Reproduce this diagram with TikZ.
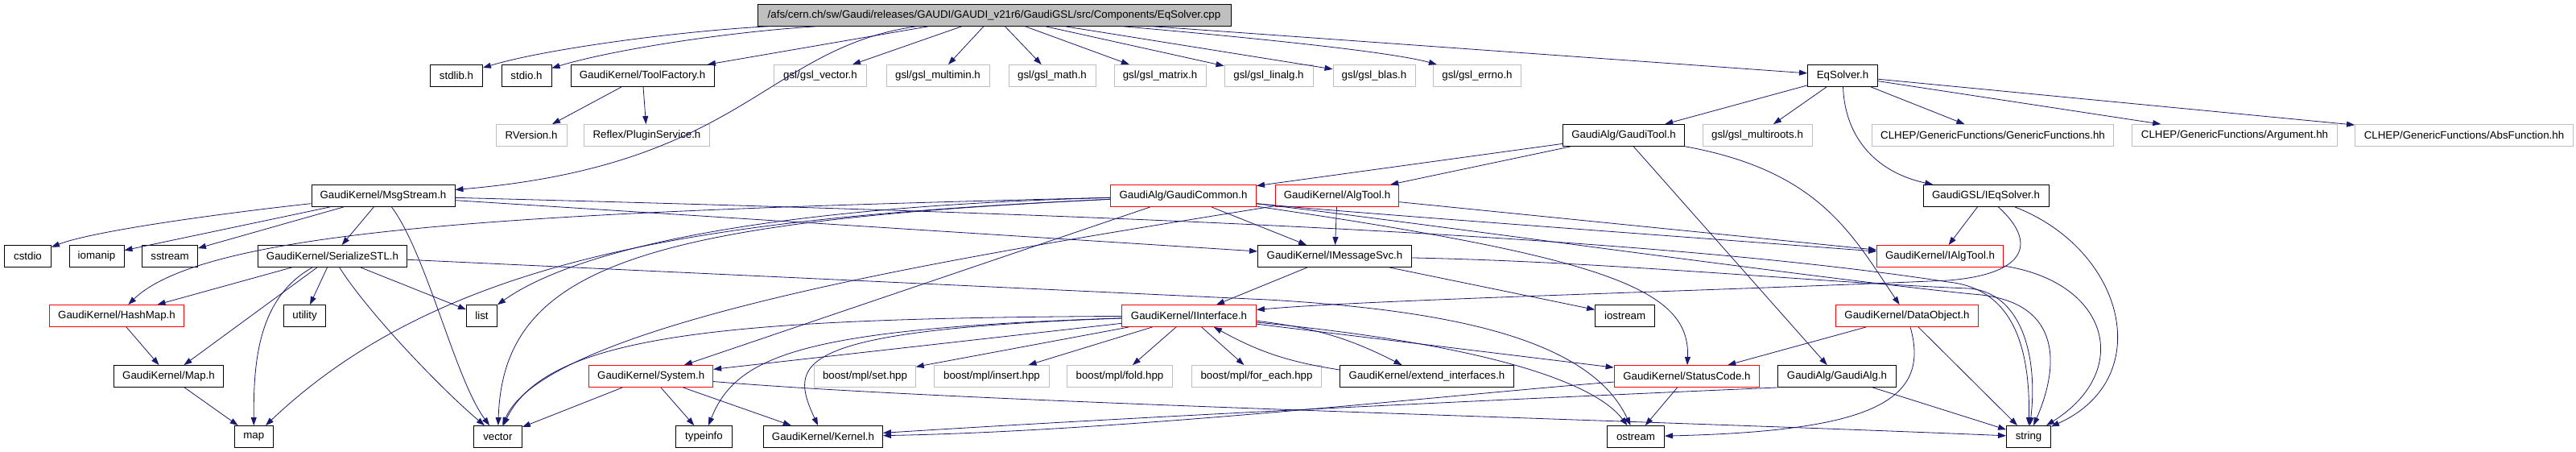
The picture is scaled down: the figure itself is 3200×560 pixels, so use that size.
\documentclass[tikz,border=0pt]{standalone}
\usepackage{fontspec}
\setmainfont{Liberation Sans}
\usetikzlibrary{arrows.meta}
\definecolor{edgeblue}{HTML}{191970}
\definecolor{grayline}{HTML}{BFBFBF}
\definecolor{redline}{HTML}{FF0000}
\begin{document}
\begin{tikzpicture}[x=1pt,y=-1pt,
  box/.style={draw=black, line width=0.9pt, minimum height=27pt, inner sep=0pt, font=\fontsize{13.3}{16}\selectfont, text=black, fill=white},
  rbox/.style={box, draw=redline},
  gbox/.style={box, draw=grayline},
  rootbox/.style={box, fill=grayline},
  conn/.style={draw=edgeblue, line width=0.8pt, -{Triangle[length=10pt,width=7pt]}},
]
\useasboundingbox (0,0) rectangle (3200,560);
\fill[white] (0,0) rectangle (3200,560);

% ---------- edges first (nodes drawn on top) ----------
\begin{scope}[on background layer/.style={}]
\end{scope}

% ---------- nodes ----------
\node[rootbox, minimum width=588pt] (root) at (1235,18.7) {/afs/cern.ch/sw/Gaudi/releases/GAUDI/GAUDI\_v21r6/GaudiGSL/src/Components/EqSolver.cpp};
% row 2
\node[box,  minimum width=65pt]  (stdlib)    at (567,94)  {stdlib.h};
\node[box,  minimum width=62pt]  (stdio)     at (654,94)  {stdio.h};
\node[box,  minimum width=178pt] (toolfac)   at (798,94)  {GaudiKernel/ToolFactory.h};
\node[gbox, minimum width=115pt] (gslvec)    at (1019,94) {gsl/gsl\_vector.h};
\node[gbox, minimum width=128pt] (gslmin)    at (1165,94) {gsl/gsl\_multimin.h};
\node[gbox, minimum width=108pt] (gslmath)   at (1307,94) {gsl/gsl\_math.h};
\node[gbox, minimum width=114pt] (gslmatrix) at (1441,94) {gsl/gsl\_matrix.h};
\node[gbox, minimum width=110pt] (gsllinalg) at (1576,94) {gsl/gsl\_linalg.h};
\node[gbox, minimum width=102pt] (gslblas)   at (1707,94) {gsl/gsl\_blas.h};
\node[gbox, minimum width=109pt] (gslerrno)  at (1835,94) {gsl/gsl\_errno.h};
\node[box,  minimum width=87pt]  (eqsolverh) at (2289,94) {EqSolver.h};
% row 3
\node[gbox, minimum width=88pt]  (rversion)   at (660,168)    {RVersion.h};
\node[gbox, minimum width=156pt] (plugin)     at (803.5,168)  {Reflex/PluginService.h};
\node[box,  minimum width=151pt] (gauditool)  at (2017,168)   {GaudiAlg/GaudiTool.h};
\node[gbox, minimum width=136pt] (multiroots) at (2183,168)   {gsl/gsl\_multiroots.h};
\node[gbox, minimum width=300pt] (genfun)     at (2475.5,168) {CLHEP/GenericFunctions/GenericFunctions.hh};
\node[gbox, minimum width=255pt] (argument)   at (2776,168)   {CLHEP/GenericFunctions/Argument.hh};
\node[gbox, minimum width=271pt] (absfun)     at (3061,168)   {CLHEP/GenericFunctions/AbsFunction.hh};
% row 4
\node[box,  minimum width=178pt]   (msgstream)   at (476,243)  {GaudiKernel/MsgStream.h};
\node[rbox, minimum width=181pt]   (gaudicommon) at (1470,243) {GaudiAlg/GaudiCommon.h};
\node[rbox, minimum width=152.5pt] (algtool)     at (1661,243) {GaudiKernel/AlgTool.h};
\node[box,  minimum width=156pt]   (ieqsolver)   at (2467,243) {GaudiGSL/IEqSolver.h};
% row 5
\node[box,  minimum width=58pt]  (cstdio)      at (34.5,318) {cstdio};
\node[box,  minimum width=68pt]  (iomanip)     at (120,318)  {iomanip};
\node[box,  minimum width=69pt]  (sstream)     at (211,318)  {sstream};
\node[box,  minimum width=185pt] (serialize)   at (413,318)  {GaudiKernel/SerializeSTL.h};
\node[box,  minimum width=191pt] (imessagesvc) at (1658,318) {GaudiKernel/IMessageSvc.h};
\node[rbox, minimum width=157pt] (ialgtool)    at (2410,318) {GaudiKernel/IAlgTool.h};
% row 6
\node[rbox, minimum width=167pt] (hashmap)    at (145,392)    {GaudiKernel/HashMap.h};
\node[box,  minimum width=52pt]  (utility)    at (378.6,392)  {utility};
\node[box,  minimum width=38pt]  (list)       at (598.5,392)  {list};
\node[rbox, minimum width=167pt] (iinterface) at (1477,392)   {GaudiKernel/IInterface.h};
\node[box,  minimum width=74pt]  (iostream)   at (2018.6,392) {iostream};
\node[rbox, minimum width=177pt] (dataobject) at (2369,392)   {GaudiKernel/DataObject.h};
% row 7
\node[box,  minimum width=136pt]   (maph)       at (209.5,467)  {GaudiKernel/Map.h};
\node[rbox, minimum width=154pt]   (system)     at (808.7,467)  {GaudiKernel/System.h};
\node[gbox, minimum width=125.5pt] (mplset)     at (1074.5,467) {boost/mpl/set.hpp};
\node[gbox, minimum width=143pt]   (mplinsert)  at (1232,467)   {boost/mpl/insert.hpp};
\node[gbox, minimum width=131pt]   (mplfold)    at (1391,467)   {boost/mpl/fold.hpp};
\node[gbox, minimum width=161pt]   (mplforeach) at (1561,467)   {boost/mpl/for\_each.hpp};
\node[box,  minimum width=216pt]   (extend)     at (1772.5,467) {GaudiKernel/extend\_interfaces.h};
\node[rbox, minimum width=180.6pt] (statuscode) at (2095.4,467) {GaudiKernel/StatusCode.h};
\node[box,  minimum width=147pt]   (gaudialg)   at (2282,467)   {GaudiAlg/GaudiAlg.h};
% row 8
\node[box, minimum width=48pt]  (map)      at (315.3,542)  {map};
\node[box, minimum width=60pt]  (vector)   at (618.4,542)  {vector};
\node[box, minimum width=70pt]  (typeinfo) at (874.5,542)  {typeinfo};
\node[box, minimum width=148pt] (kernel)   at (1022.5,542) {GaudiKernel/Kernel.h};
\node[box, minimum width=71pt]  (ostream)  at (2032,542)   {ostream};
\node[box, minimum width=55pt]  (string)   at (2520,542)   {string};

\coordinate (sbend) at (1575,372);

% ---------- connectors ----------
% root
\draw[conn] (root) .. controls (850,38) and (680,60) .. (stdlib);
\draw[conn] (root) .. controls (900,40) and (760,62) .. (stdio);
\draw[conn] (root) -- (toolfac);
\draw[conn] (root) .. controls (950,60) and (925,205) .. (msgstream);
\draw[conn] (root) -- (gslvec);
\draw[conn] (root) -- (gslmin);
\draw[conn] (root) -- (gslmath);
\draw[conn] (root) -- (gslmatrix);
\draw[conn] (root) -- (gsllinalg);
\draw[conn] (root) -- (gslblas);
\draw[conn] (root) .. controls (1500,42) and (1720,62) .. (gslerrno);
\draw[conn] (root) -- (eqsolverh);
% ToolFactory
\draw[conn] (toolfac) -- (rversion);
\draw[conn] (toolfac) -- (plugin);
% EqSolver.h
\draw[conn] (eqsolverh) -- (gauditool);
\draw[conn] (eqsolverh) -- (multiroots);
\draw[conn] (eqsolverh) .. controls (2292,175) and (2335,215) .. (ieqsolver);
\draw[conn] (eqsolverh) -- (genfun);
\draw[conn] (eqsolverh) -- (argument);
\draw[conn] (eqsolverh) -- (absfun);
% GaudiTool
\draw[conn] (gauditool) -- (gaudicommon);
\draw[conn] (gauditool) -- (algtool);
\draw[conn] (gauditool) -- (gaudialg);
\draw[conn] (gauditool) .. controls (2260,212) and (2300,290) .. (dataobject);
% MsgStream
\draw[conn] (msgstream) .. controls (300,262) and (120,285) .. (cstdio);
\draw[conn] (msgstream) -- (iomanip);
\draw[conn] (msgstream) -- (sstream);
\draw[conn] (msgstream) -- (serialize);
\draw[conn] (msgstream) .. controls (530,315) and (565,470) .. (vector);
\draw[conn] (msgstream) -- (imessagesvc);
\draw[conn] (msgstream) .. controls (1200,262) and (2000,285) .. (2420,350) .. controls (2500,358) and (2522,430) .. (string);
% GaudiCommon
\draw[conn] (gaudicommon) .. controls (700,262) and (260,280) .. (hashmap);
\draw[conn] (gaudicommon) .. controls (900,270) and (560,310) .. (map);
\draw[conn] (gaudicommon) .. controls (900,258) and (700,320) .. (list);
\draw[conn] (gaudicommon) .. controls (800,275) and (625,330) .. (vector);
\draw[conn] (gaudicommon) -- (system);
\draw[conn] (gaudicommon) -- (imessagesvc);
\draw[conn] (gaudicommon) .. controls (2000,320) and (2100,360) .. (statuscode);
\draw[conn] (gaudicommon) .. controls (1650,262) and (2000,287) .. (ialgtool);
\draw[conn] (gaudicommon) .. controls (1700,268) and (2250,345) .. (2450,365) .. controls (2560,372) and (2560,450) .. (string);
% AlgTool
\draw[conn] (algtool) -- (imessagesvc);
\draw[conn] (algtool) -- (ialgtool);
\draw[conn] (algtool) .. controls (1250,310) and (680,395) .. (vector);
% IEqSolver
\draw[conn] (ieqsolver) -- (ialgtool);
\draw[conn] (ieqsolver) .. controls (2530,300) and (2520,340) .. (2420,348) .. controls (2100,362) and (1700,372) .. (iinterface);
\draw[conn] (ieqsolver) .. controls (2640,310) and (2680,470) .. (string);
% IMessageSvc
\draw[conn] (imessagesvc) -- (iinterface);
\draw[conn] (imessagesvc) -- (iostream);
\draw[conn] (imessagesvc) .. controls (2000,325) and (2250,350) .. (2445,358) .. controls (2510,362) and (2532,440) .. (string);
% IAlgTool
\draw[conn] (ialgtool) .. controls (2620,350) and (2650,460) .. (string);
% SerializeSTL
\draw[conn] (serialize) -- (hashmap);
\draw[conn] (serialize) -- (maph);
\draw[conn] (serialize) .. controls (320,370) and (315,450) .. (map);
\draw[conn] (serialize) -- (utility);
\draw[conn] (serialize) -- (list);
\draw[conn] (serialize) .. controls (455,385) and (545,480) .. (vector);
\draw[conn] (serialize) -- (sbend) .. controls (1800,385) and (1975,420) .. (ostream);
% HashMap, Map
\draw[conn] (hashmap) -- (maph);
\draw[conn] (maph) -- (map);
% IInterface
\draw[conn] (iinterface) -- (system);
\draw[conn] (iinterface) -- (mplset);
\draw[conn] (iinterface) -- (mplinsert);
\draw[conn] (iinterface) -- (mplfold);
\draw[conn] (iinterface) -- (mplforeach);
\draw[conn] (iinterface) .. controls (1000,408) and (915,440) .. (typeinfo);
\draw[conn] (iinterface) .. controls (980,410) and (980,450) .. (kernel);
\draw[conn] (iinterface) .. controls (900,395) and (680,415) .. (vector);
\draw[conn] (iinterface) to[bend left=10] (extend);
\draw[conn] (extend) to[bend left=10] (iinterface);
\draw[conn] (iinterface) -- (statuscode);
\draw[conn] (iinterface) .. controls (1870,430) and (1985,480) .. (ostream);
% DataObject
\draw[conn] (dataobject) -- (statuscode);
\draw[conn] (dataobject) .. controls (2400,500) and (2320,535) .. (ostream);
\draw[conn] (dataobject) -- (string);
% System
\draw[conn] (system) -- (vector);
\draw[conn] (system) -- (typeinfo);
\draw[conn] (system) -- (kernel);
\draw[conn] (system) .. controls (1200,500) and (2000,520) .. (string);
% StatusCode, GaudiAlg
\draw[conn] (statuscode) .. controls (1800,490) and (1400,535) .. (kernel);
\draw[conn] (statuscode) -- (ostream);
\draw[conn] (gaudialg.south west) .. controls (2000,490) and (1500,512) .. (kernel);
\draw[conn] (gaudialg) -- (string);
\end{tikzpicture}
\end{document}
